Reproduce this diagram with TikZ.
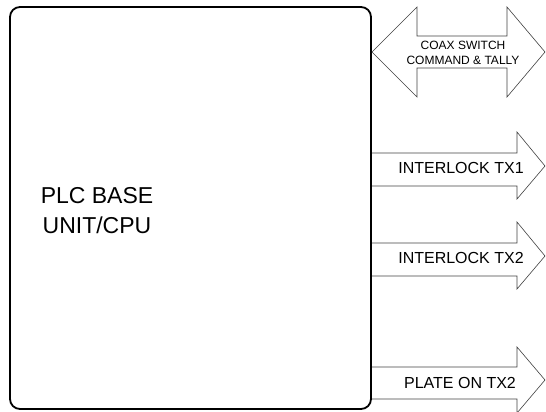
\documentclass[tikz,border=0pt]{standalone}
\usepackage{fontspec}
\setmainfont{Liberation Sans}
\begin{document}
\begin{tikzpicture}[x=1pt,y=-1pt,
  arrowline/.style={draw=black!75,line width=0.6pt,line join=miter},
  boxline/.style={draw=black,line width=1.8pt,rounded corners=10pt},
  bigtext/.style={font=\fontsize{23}{30}\selectfont,align=center,inner sep=0pt},
  armtext/.style={font=\fontsize{16}{19}\selectfont,inner sep=0pt},
  smalltext/.style={font=\fontsize{12}{14.5}\selectfont,align=center,inner sep=0pt}]
\useasboundingbox (0,0) rectangle (546,412);
% PLC box
\draw[boxline] (10,7) rectangle (371,409);
\node[bigtext] (plc) at (97,211) {PLC BASE\\UNIT/CPU};
% coax double arrow
\draw[arrowline] (372,52) -- (417,7) -- (417,36) -- (507,36) -- (507,7) -- (545,52)
  -- (507,97) -- (507,68) -- (417,68) -- (417,97) -- cycle;
\node[smalltext] (coax) at (463,53) {COAX SWITCH\\COMMAND \& TALLY};
% interlock TX1
\draw[arrowline] (372,153) -- (517,153) -- (517,132) -- (545,166) -- (517,199) -- (517,186) -- (372,186);
\node[armtext] (tx1) at (461,168) {INTERLOCK TX1};
% interlock TX2
\draw[arrowline] (372,243) -- (517,243) -- (517,222) -- (545,256) -- (517,289) -- (517,276) -- (372,276);
\node[armtext] (tx2) at (461,258) {INTERLOCK TX2};
% plate on TX2
\draw[arrowline] (372,367) -- (517,367) -- (517,347) -- (545,380) -- (517,413) -- (517,399) -- (372,399);
\node[armtext] (plate) at (460,383) {PLATE ON TX2};
\end{tikzpicture}
\end{document}
